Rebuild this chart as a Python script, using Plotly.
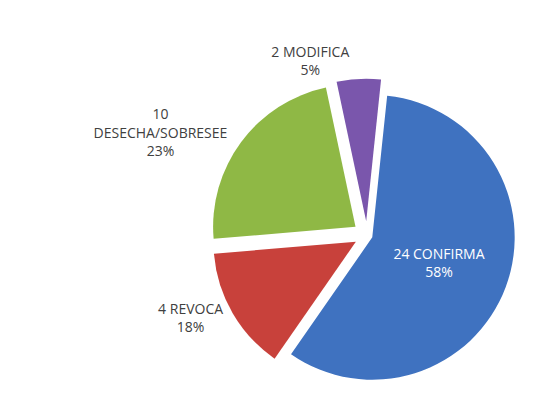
import plotly.graph_objects as go

# sectores del grafico (en orden horario desde arriba)
categorias = ["CONFIRMA", "REVOCA", "DESECHA/SOBRESEE", "MODIFICA"]
cantidades = [24, 4, 10, 2]
porcentajes = [58, 14, 23, 5]
etiquetas_pct = ["58%", "18%", "23%", "5%"]

colores = ["#3f72c0", "#c8413b", "#8fb845", "#7a56ac"]

textos = []
for cat, n, p in zip(categorias, cantidades, etiquetas_pct):
    if cat == "DESECHA/SOBRESEE":
        textos.append(f"{n}<br>{cat}<br>{p}")
    else:
        textos.append(f"{n} {cat}<br>{p}")

fig = go.Figure(go.Pie(
    labels=categorias,
    values=porcentajes,
    text=textos,
    textinfo="text",
    hoverinfo="label+value",
    sort=False,
    direction="clockwise",
    rotation=6,
    pull=[0.04, 0.09, 0.1, 0.1],
    marker=dict(colors=colores, line=dict(color="white", width=0)),
    textposition=["inside", "outside", "outside", "outside"],
    insidetextfont=dict(color="white", size=14),
    outsidetextfont=dict(color="#404040", size=14),
    insidetextorientation="horizontal",
    domain=dict(x=[0.37, 1.0], y=[0.0, 0.88]),
))

fig.update_layout(
    width=558, height=405,
    margin=dict(l=0, r=0, t=0, b=0),
    showlegend=False,
    paper_bgcolor="white",
    font=dict(family="Open Sans, Liberation Sans, sans-serif", size=14, color="#404040"),
)

fig.write_html("out.html")
